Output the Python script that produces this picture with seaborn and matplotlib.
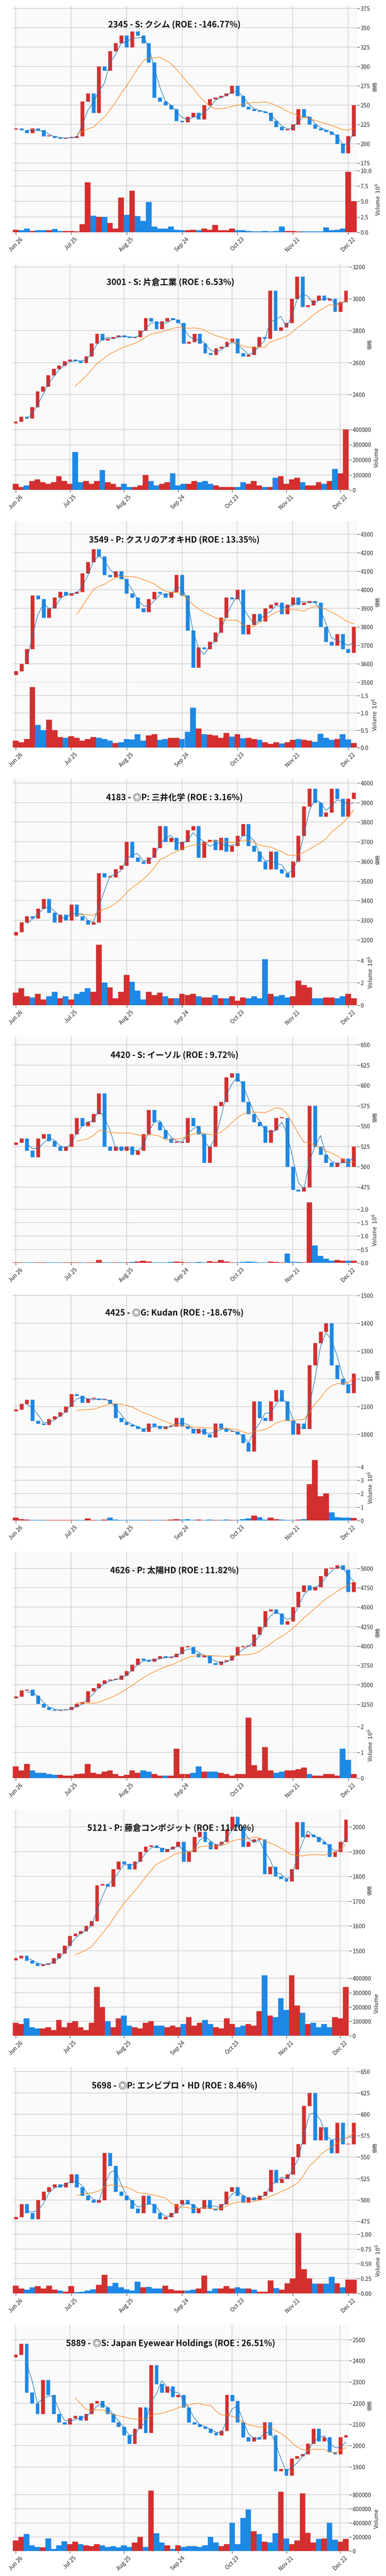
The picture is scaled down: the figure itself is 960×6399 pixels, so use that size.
import numpy as np
import pandas as pd
import matplotlib
matplotlib.use("Agg")
import matplotlib.pyplot as plt
import seaborn as sns

titles = [
    "2345 - S: クシム (ROE : -146.77%)",
    "3001 - S: 片倉工業 (ROE : 6.53%)",
    "3549 - P: クスリのアオキHD (ROE : 13.35%)",
    "4183 - ◎P: 三井化学 (ROE : 3.16%)",
    "4420 - S: イーソル (ROE : 9.72%)",
    "4425 - ◎G: Kudan (ROE : -18.67%)",
    "4626 - P: 太陽HD (ROE : 11.82%)",
    "5121 - P: 藤倉コンポジット (ROE : 11.10%)",
    "5698 - ◎P: エンビプロ・HD (ROE : 8.46%)",
    "5889 - ◎S: Japan Eyewear Holdings (ROE : 26.51%)",
]
tick_labels = ["Jun 26", "Jul 25", "Aug 25", "Sep 24", "Oct 23", "Nov 21", "Dec 22"]

close_2345 = [220,218,214,220,218,210,210,208,207,208, 208,210,255,265,240,300,295,320,330,340,
              325,345,340,330,305,260,255,250,245,230, 228,235,240,232,250,258,260,262,265,275,
              262,248,245,243,242,240,230,222,218,218, 225,245,235,225,220,218,216,212,200,188, 210,250]
vol_2345 = [x*1e6 for x in [.4,.3,.6,.2,.3,.3,.3,.5,.2,.2, .2,.1,1.3,8.1,2.7,2.5,2.5,1.5,.6,5.6,
            2.8,6.7,2.6,1.8,4.9,.9,.6,.6,.9,.4, .3,.3,.4,.3,.6,.4,1.2,.3,.3,.6,
            .3,.3,.2,.1,.1,.2,.1,.2,.9,.2, .2,.1,.1,.1,.1,.1,.8,.3,.4,.6, 9.8,5.0]]

close_3001 = [2230,2260,2250,2320,2420,2450,2520,2560,2580,2610, 2620,2610,2600,2640,2720,2780,2740,2750,2760,2770,
              2760,2755,2760,2800,2880,2860,2810,2860,2880,2870, 2850,2720,2730,2780,2720,2660,2650,2690,2700,2730,
              2750,2660,2640,2650,2700,2760,2750,3050,2800,2820, 2850,3000,3140,2950,2960,2990,3020,2990,3000,2920, 2980,3050]
vol_3001 = [x*1000 for x in [40,20,30,60,70,50,40,50,90,60, 40,250,50,60,40,60,130,50,40,20,
            40,20,20,30,100,60,30,40,50,110, 30,40,40,60,50,60,40,30,20,20,
            20,20,50,40,60,30,20,20,80,90, 40,70,80,50,30,30,50,40,60,140, 110,400]]

close_3549 = [3560,3600,3680,3970,3950,3850,3900,3960,3990,3970, 3980,3990,4090,4150,4220,4180,4080,4070,4100,4060,
              3980,3960,3900,3880,3950,3990,3980,3960,3990,4080, 3970,3780,3580,3690,3680,3720,3770,3850,3960,3950,
              4000,3760,3810,3870,3830,3900,3920,3930,3870,3920, 3960,3920,3930,3940,3930,3800,3720,3700,3760,3680, 3660,3800]
vol_3549 = [x*1000 for x in [200,150,250,1750,650,500,800,500,300,280, 330,280,200,250,300,280,250,200,130,150,
            240,230,380,200,350,380,220,240,280,280, 250,450,1150,550,380,370,350,280,420,310,
            380,270,280,250,220,150,100,150,120,150, 220,250,220,200,160,400,280,220,250,380, 230,130]]

close_4183 = [3240,3290,3320,3310,3360,3410,3340,3290,3330,3300, 3380,3320,3300,3280,3290,3540,3520,3520,3560,3580,
              3700,3620,3600,3590,3620,3670,3780,3700,3720,3660, 3700,3760,3780,3620,3700,3710,3660,3720,3650,3680,
              3730,3790,3680,3650,3600,3560,3650,3560,3540,3520, 3600,3730,3880,3970,3900,3830,3850,3970,3920,3830, 3920,3950]
vol_4183 = [x*1e6 for x in [1.1,1.5,0.8,0.7,1.0,0.5,0.8,1.2,0.6,0.8, 0.5,1.0,1.2,1.5,1.2,5.4,2.0,1.6,0.6,1.2,
            2.7,2.1,1.3,0.5,1.2,0.9,1.1,0.8,0.6,0.6, 1.0,0.9,1.0,0.8,0.7,0.7,0.9,0.6,0.6,0.8,
            0.4,0.7,0.6,0.8,0.6,4.1,1.0,0.8,0.9,0.7, 0.8,2.2,1.8,1.6,0.6,0.6,0.7,0.7,0.6,0.8, 1.0,0.6]]

close_4420 = [530,535,520,512,535,540,532,525,520,525, 540,560,550,555,565,590,525,520,525,520,
              525,515,520,540,570,555,545,535,530,530, 530,560,550,540,505,525,575,580,610,615,
              605,580,565,555,550,530,545,560,560,500, 472,470,475,575,525,515,505,500,505,510, 500,525]
vol_4420 = [x*1e6 for x in [.01,.01,.01,.01,.01,.01,.01,.01,.01,.01, .01,.01,.01,.01,.01,.1,.02,.01,.01,.02,
            .02,.03,.05,.08,.05,.02,.02,.02,.03,.04, .03,.02,.02,.03,.02,.06,.03,.10,.05,.02,
            .02,.03,.04,.03,.02,.02,.04,.03,.02,.35, .03,.03,.02,2.25,.65,.25,.15,.08,.10,.08, .07,.08]]

close_4425 = [1090,1110,1125,1050,1040,1035,1055,1065,1080,1100, 1145,1140,1115,1130,1130,1125,1125,1110,1060,1045,
              1035,1030,1020,1010,1040,1030,1020,1030,1030,1060, 1030,1020,1005,1020,1000,990,1040,1020,1010,1010,
              1000,970,940,1120,1060,1050,1120,1160,1120,1050, 1000,1040,1020,1250,1330,1370,1400,1250,1200,1180, 1150,1220]
vol_4425 = [x*1e6 for x in [.2,.1,.05,.03,.03,.03,.03,.03,.03,.03, .03,.03,.03,.15,.03,.03,.05,.2,.05,.03,
            .03,.03,.03,.03,.03,.03,.03,.03,.05,.08, .05,.08,.03,.05,.03,.05,.03,.03,.05,.03,
            .03,.1,.15,.35,.25,.05,.2,.1,.06,.04, .03,.05,.08,2.7,4.5,1.8,2.0,.6,.25,.2, .2,.18]]

close_4626 = [3350,3430,3440,3360,3260,3210,3180,3170,3180,3180, 3220,3260,3280,3420,3460,3520,3560,3570,3570,3620,
              3680,3760,3840,3820,3800,3840,3870,3850,3860,3900, 3990,3990,3900,3860,3880,3780,3760,3800,3820,3880,
              3990,4000,4000,4150,4250,4450,4470,4420,4280,4320, 4500,4700,4780,4720,4760,4900,5000,5000,5040,4980, 4700,4820]
vol_4626 = [x*1e6 for x in [.45,.3,.55,.3,.2,.2,.15,.12,.12,.1, .1,.15,.18,.55,.2,.15,.25,.3,.15,.08,
            .12,.3,.2,.3,.25,.15,.1,.1,.1,1.15, .15,.15,.2,.45,.25,.25,.25,.2,.15,.1,
            .15,.15,2.35,.5,.3,1.2,.3,.2,.25,.3, .3,.35,.4,.15,.1,.1,.15,.15,.1,1.15, .7,.15]]

close_5121 = [1470,1480,1460,1450,1440,1445,1450,1470,1490,1520, 1560,1570,1580,1600,1620,1765,1770,1760,1830,1860,
              1850,1830,1860,1900,1920,1925,1915,1900,1910,1920, 1940,1860,1900,1960,1980,1940,1910,1930,1940,1990,
              2040,2000,1920,1940,1950,1950,1810,1840,1800,1790, 1780,1830,2020,1960,1970,1960,1940,1930,1880,1900, 1940,2030]
vol_5121 = [x*1000 for x in [90,80,120,60,50,50,60,40,110,60, 90,100,60,40,90,340,200,100,60,120,
            140,70,60,50,90,100,70,70,60,70, 60,80,130,70,90,110,80,60,50,120,
            80,60,70,80,70,170,420,140,130,260, 180,420,210,160,80,90,60,80,60,130, 120,340]]

close_5698 = [480,495,485,478,500,510,515,518,515,520, 530,515,505,500,497,500,555,540,510,505,
              500,490,485,505,495,485,478,480,485,495, 500,495,485,490,500,490,488,495,510,515,
              505,497,503,500,505,510,535,520,525,530, 550,565,610,625,570,585,570,555,590,565, 565,590]
vol_5698 = [x*1e6 for x in [.13,.08,.06,.1,.12,.08,.13,.06,.05,.03, .12,.02,.03,.05,.07,.14,.31,.12,.18,.1,
            .07,.05,.2,.1,.11,.08,.08,.13,.07,.05, .05,.05,.06,.08,.3,.04,.08,.08,.12,.08,
            .1,.08,.08,.06,.03,.03,.22,.09,.06,.17, .25,1.02,.41,.25,.16,.16,.16,.28,.17,.1, .23,.23]]

close_5889 = [2430,2480,2250,2200,2150,2310,2240,2150,2110,2100, 2130,2140,2120,2150,2200,2210,2180,2150,2110,2090,
              2050,2010,2080,2180,2060,2380,2290,2250,2280,2230, 2240,2180,2110,2100,2090,2080,2060,2050,2070,2240,
              2210,2110,2040,2020,2040,2030,2110,2050,1880,1890, 1860,1940,1950,1960,2010,2080,2020,2040,1970,1960, 2040,2050]
vol_5889 = [x*1000 for x in [150,200,240,80,60,50,180,30,80,140, 100,130,100,80,70,100,80,60,70,50,
            80,60,120,200,60,860,250,120,80,30, 80,60,70,70,60,80,200,120,70,100,
            400,100,470,590,280,240,130,120,250,840, 180,100,150,820,260,120,170,180,400,160, 130,170]]

closes = [close_2345, close_3001, close_3549, close_4183, close_4420,
          close_4425, close_4626, close_5121, close_5698, close_5889]
vols = [vol_2345, vol_3001, vol_3549, vol_4183, vol_4420,
        vol_4425, vol_4626, vol_5121, vol_5698, vol_5889]
price_lims = [(170, 378), (2210, 3220), (3500, 4370), (3200, 4020), (462, 660),
              (925, 1505), (3140, 5210), (1420, 2070), (467, 655), (1810, 2570)]
plain_vol = [False, True, False, False, False, False, False, True, False, True]

sns.set_theme(style="whitegrid")
plt.rcParams['font.family'] = ['Noto Sans CJK JP', 'DejaVu Sans']
plt.rcParams['axes.formatter.use_mathtext'] = True

UP = "#d32f2f"
DOWN = "#1e88e5"
W, H = 960, 6399
fig = plt.figure(figsize=(W/100, H/100), dpi=100)

def style(ax):
    ax.set_facecolor("#fafafa")
    ax.grid(True, color="#d6d6d6", lw=1.4)
    for s in ax.spines.values():
        s.set_visible(False)
    ax.yaxis.tick_right()
    ax.yaxis.set_label_position("right")
    ax.tick_params(axis="y", which="both", right=True, length=4, width=1, color="#444",
                   labelsize=10, pad=2)
    ax.tick_params(axis="x", bottom=True, length=4, width=1, color="#444")

for k in range(10):
    c = np.array(closes[k], dtype=float)
    o = np.concatenate([[c[0]*0.995], c[:-1]])
    n = len(c)
    x = np.arange(n)
    up = c >= o
    colors = np.where(up, UP, DOWN)
    df = pd.DataFrame({"x": x, "close": c})
    df["ma_s"] = df["close"].rolling(3).mean()
    df["ma_l"] = df["close"].rolling(12).mean()

    top = 15 + 640*k
    right = 868 if plain_vol[k] else 888
    left = 31
    axp = fig.add_axes([left/W, 1-(top+400)/H, (right-left)/W, 400/H])
    axv = fig.add_axes([left/W, 1-(top+562)/H, (right-left)/W, 162/H], sharex=axp)
    style(axp); style(axv)

    body = np.abs(c - o)
    body = np.maximum(body, (price_lims[k][1]-price_lims[k][0])*0.004)
    axp.bar(x, body, bottom=np.minimum(c, o), color=colors, width=0.65,
            edgecolor=colors, linewidth=0.4, zorder=3)
    sns.lineplot(data=df, x="x", y="ma_s", ax=axp, color="#1f77b4", lw=1.0, zorder=4)
    sns.lineplot(data=df, x="x", y="ma_l", ax=axp, color="#ff7f0e", lw=1.0, zorder=4)
    axp.set_ylim(*price_lims[k])
    axp.set_xlim(-0.6, n-0.4)
    axp.set_ylabel("価格", fontsize=9)
    axp.set_xlabel("")
    axp.tick_params(axis="x", labelbottom=False)
    axp.text(0.47, 0.885, titles[k], transform=axp.transAxes, ha="center", va="center",
             fontsize=15, fontweight="bold", color="#111", zorder=6)

    axv.bar(x, vols[k], color=colors, width=1.0, edgecolor=colors, linewidth=0.3, zorder=3)
    axv.set_ylim(0, max(vols[k])*1.08)
    if not plain_vol[k]:
        axv.ticklabel_format(axis="y", style="sci", scilimits=(6, 6), useMathText=True)
        axv.yaxis.get_offset_text().set_visible(False)
        axv.set_ylabel("Volume  $10^{6}$", fontsize=10)
    else:
        axv.ticklabel_format(axis="y", style="plain")
        axv.set_ylabel("Volume", fontsize=10)
    axv.set_xticks(np.arange(0, 61, 10))
    axv.set_xticklabels(tick_labels, rotation=45, ha="center", fontsize=10)

fig.savefig("out.png", dpi=100)
